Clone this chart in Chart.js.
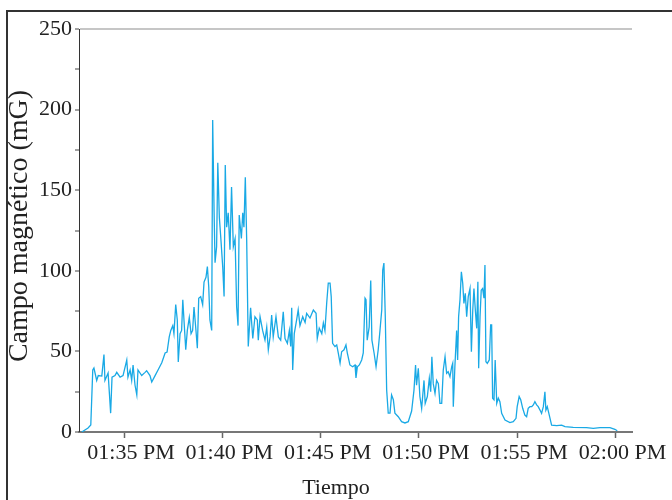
<!DOCTYPE html>
<html>
<head>
<meta charset="utf-8">
<script src="https://cdn.jsdelivr.net/npm/chart.js@4"></script>
<style>
  html, body { margin: 0; padding: 0; background: #fff; overflow: hidden; }
  #wrap { position: relative; width: 672px; height: 500px; }
  #marco { position: absolute; left: 6px; top: 10px; width: 720px; height: 600px;
           border: 2px solid #333; pointer-events: none; }
</style>
</head>
<body>
<div id="wrap">
  <canvas id="campoChart"></canvas>
  <div id="marco"></div>
</div>
<script>
// minutos desde las 13:00
const minutos = [
  32.85, 33.17, 33.31, 33.41, 33.47, 33.61, 33.69, 33.87, 33.98, 34.03, 34.19, 34.32, 34.39, 34.54, 34.63, 34.80, 34.95,
  35.14, 35.20, 35.31, 35.39, 35.46, 35.56, 35.65, 35.71, 35.90, 36.07, 36.15, 36.32, 36.41, 36.58, 36.73, 36.92,
  37.09, 37.19, 37.30, 37.38, 37.48, 37.54, 37.63, 37.71, 37.76, 37.85, 37.93, 37.99, 38.05, 38.14, 38.22, 38.32,
  38.41, 38.49, 38.56, 38.66, 38.73, 38.80, 38.90, 39.00, 39.07, 39.17, 39.24, 39.31, 39.37, 39.46, 39.51, 39.58,
  39.63, 39.71, 39.77, 39.85, 39.92, 40.02, 40.09, 40.15, 40.22, 40.30, 40.39, 40.47, 40.56, 40.65, 40.73, 40.80,
  40.86, 40.97, 41.04, 41.10, 41.17, 41.24, 41.32, 41.44, 41.55, 41.66, 41.78, 41.83, 41.92, 42.05, 42.17, 42.26,
  42.34, 42.43, 42.51, 42.59, 42.73, 42.85, 42.97, 43.10, 43.19, 43.31, 43.41, 43.48, 43.53, 43.58, 43.66, 43.78,
  43.86, 43.95, 44.09, 44.21, 44.29, 44.46, 44.63, 44.77, 44.83, 44.93, 45.06, 45.14, 45.22, 45.31, 45.39, 45.48,
  45.54, 45.61, 45.73, 45.82, 45.90, 45.99, 46.07, 46.19, 46.29, 46.36, 46.49, 46.63, 46.75, 46.80, 46.87, 46.97,
  47.09, 47.17, 47.26, 47.31, 47.37, 47.47, 47.55, 47.61, 47.72, 47.82, 47.93, 48.02, 48.11, 48.16, 48.22, 48.29,
  48.36, 48.44, 48.53, 48.61, 48.70, 48.78, 48.95, 49.12, 49.29, 49.46, 49.63, 49.75, 49.83, 49.88, 49.97, 50.05,
  50.14, 50.26, 50.32, 50.43, 50.53, 50.60, 50.66, 50.73, 50.82, 50.90, 50.99, 51.07, 51.16, 51.24, 51.33, 51.41,
  51.49, 51.58, 51.67, 51.72, 51.75, 51.83, 51.92, 51.97, 52.02, 52.09, 52.16, 52.23, 52.29, 52.36, 52.43, 52.51,
  52.60, 52.67, 52.74, 52.80, 52.87, 52.94, 53.00, 53.04, 53.11, 53.17, 53.24, 53.31, 53.36, 53.41, 53.48, 53.58,
  53.65, 53.70, 53.75, 53.82, 53.88, 53.96, 54.04, 54.12, 54.21, 54.38, 54.63, 54.80, 54.94, 55.00, 55.10, 55.18,
  55.28, 55.39, 55.48, 55.56, 55.65, 55.74, 55.82, 55.90, 55.99, 56.07, 56.16, 56.24, 56.33, 56.41, 56.46, 56.53,
  56.67, 56.75, 57.01, 57.26, 57.43, 57.85, 58.53, 58.87, 59.21, 59.72, 59.97, 60.09
];
// campo magnético en mG
const campo = [
  0, 2.5, 4.3, 38.5, 39.7, 32, 35, 34.7, 48, 32, 36.6, 11.7, 34, 35, 37, 34, 35,
  44.6, 34, 38.5, 32, 41.5, 29, 23, 38.5, 35, 37, 38, 35, 31, 35, 38.5, 43,
  49, 49.6, 59, 63, 66, 61, 79, 69.5, 43.4, 61, 63, 82, 69.5, 51, 63, 71,
  61, 63, 77.5, 63, 52, 83, 84, 79, 93, 96, 102.6, 90, 69.5, 63, 193.5, 137.7,
  105, 115, 167, 133, 121, 102.6, 84, 165.6, 127, 136, 113, 152, 115, 120, 77.5, 66,
  134.6, 120, 136, 127, 158, 119, 53, 77, 58, 71.5, 69.5, 57, 71.5, 63, 57, 65,
  51, 59, 72.6, 59, 71.5, 59, 57, 74.6, 58, 55, 63, 53, 77, 38.5, 61, 69.5,
  75.7, 66, 71.5, 68, 73.6, 70.7, 75.7, 73.6, 58, 64.5, 61, 67.6, 63, 80, 92.4, 92.4,
  84, 55, 53, 54, 49, 42.8, 49.8, 51, 54, 49, 41.6, 40.5, 41.6, 33.5, 40.5, 41.6,
  44.7, 49, 83, 82, 57, 65, 94, 57, 49, 40.5, 51, 63, 75.7, 100.5, 104.8, 71.5,
  26, 11.7, 11.7, 23, 20, 11.7, 9.5, 6.4, 5.6, 6.4, 13, 26, 41.6, 29, 39.5, 22,
  14.7, 32, 17.8, 22, 33.3, 25, 46.7, 30, 24, 32, 30, 17.8, 17.8, 38.5, 46.7, 36.4,
  37.4, 34.3, 40.5, 42.6, 15.7, 40.5, 63, 44.7, 71.5, 82, 99.4, 92.2, 79.8, 86, 71.5, 84,
  89, 49.8, 75.7, 89, 75.7, 64.3, 93.2, 39.5, 71.5, 88, 89, 83, 103.6, 43.6, 42.6, 44.7,
  66.4, 66.4, 21, 20, 44.7, 17.8, 21, 18.8, 11.6, 7.4, 5.8, 6.4, 8.5, 15.7, 22, 20,
  14.7, 10.5, 9.5, 14.7, 15.7, 15.7, 16.8, 18.8, 16.8, 15.7, 13.6, 11.6, 15.7, 25, 13.6, 15.7,
  8.5, 4.3, 4, 4.3, 3.3, 2.9, 2.7, 2.3, 2.7, 2.7, 1.7, 0.8
];
const ticksHora = [35, 40, 45, 50, 55, 60];
const ticksCampo = [0, 25, 50, 75, 100, 125, 150, 175, 200, 225, 250];

const fuente = '"Liberation Serif", "Times New Roman", serif';

function dosDigitos(n) {
    return (n < 10 ? '0' : '') + n;
}
function etiquetaHora(m) {
    const h = 13 + Math.floor(m / 60);
    const mm = Math.round(m % 60);
    return dosDigitos(h > 12 ? h - 12 : h) + ':' + dosDigitos(mm) + ' PM';
}

// titulos de ejes dibujados a mano para ubicarlos como en la figura
const titulosEjes = {
    id: 'titulosEjes',
    afterDraw(chart) {
        const ctx = chart.ctx;
        ctx.save();
        ctx.fillStyle = '#222';
        ctx.textAlign = 'center';
        ctx.textBaseline = 'middle';
        ctx.font = '22px ' + fuente;
        ctx.fillText('Tiempo', 336, 488);
        ctx.translate(20, 226);
        ctx.rotate(-Math.PI / 2);
        ctx.font = '28px ' + fuente;
        ctx.fillText('Campo magnético (mG)', 0, 0);
        ctx.restore();
    }
};

const puntos = minutos.map((m, i) => ({ x: m, y: campo[i] }));

new Chart(document.getElementById('campoChart'), {
    type: 'line',
    data: {
        datasets: [{
            data: puntos,
            borderColor: '#19a9e5',
            borderWidth: 1.3,
            pointRadius: 0,
            tension: 0,
            fill: false
        }]
    },
    options: {
        responsive: true,
        maintainAspectRatio: false,
        animation: false,
        layout: { padding: { left: 0, top: 29, right: 40, bottom: 0 } },
        plugins: {
            legend: { display: false },
            tooltip: { enabled: false }
        },
        scales: {
            x: {
                type: 'linear',
                min: 32.71,
                max: 60.84,
                afterFit: (scale) => { scale.height = 68; },
                afterBuildTicks: (scale) => { scale.ticks = ticksHora.map(v => ({ value: v })); },
                border: { color: '#777', width: 2 },
                grid: { drawOnChartArea: false, tickLength: 6, tickColor: '#666', tickWidth: 1.5 },
                ticks: {
                    color: '#222',
                    padding: 2,
                    labelOffset: 7,
                    maxRotation: 0,
                    autoSkip: false,
                    font: { family: fuente, size: 22 },
                    callback: (v) => etiquetaHora(v)
                }
            },
            y: {
                min: 0,
                max: 250,
                afterFit: (scale) => { scale.width = 79; },
                afterBuildTicks: (scale) => { scale.ticks = ticksCampo.map(v => ({ value: v })); },
                border: { color: '#333', width: 1 },
                grid: {
                    color: (c) => c.tick && c.tick.value === 250 ? '#c6c6c6' : 'rgba(0,0,0,0)',
                    lineWidth: (c) => c.tick && c.tick.value === 250 ? 2 : 0,
                    tickLength: 4,
                    tickColor: '#444',
                    tickWidth: 1
                },
                ticks: {
                    color: '#222',
                    padding: 3,
                    autoSkip: false,
                    font: { family: fuente, size: 22 },
                    callback: (v) => (v % 50 === 0 ? v : '')
                }
            }
        }
    },
    plugins: [titulosEjes]
});
</script>
</body>
</html>
